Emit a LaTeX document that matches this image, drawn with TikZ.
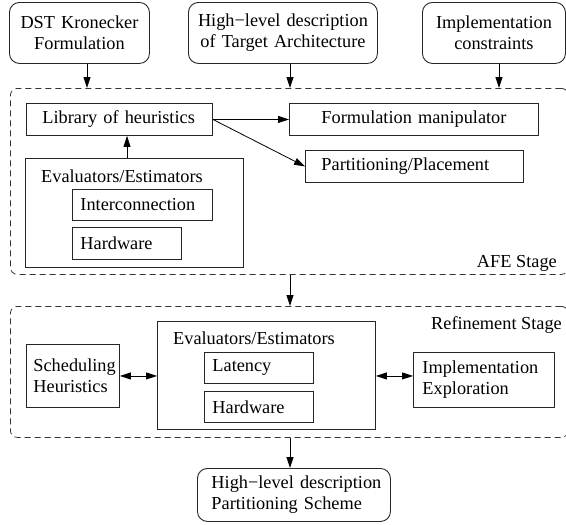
\documentclass[tikz,border=0pt]{standalone}
\usepackage{fontspec}
\setmainfont{Liberation Serif}
\usetikzlibrary{arrows.meta}
\begin{document}
\begin{tikzpicture}[x=1pt,y=-1pt,
  every node/.style={font=\fontsize{18.3}{21}\selectfont},
  box/.style={draw=black!85, line width=0.9pt, inner ysep=0pt, anchor=north west},
  rbox/.style={box, rounded corners=10pt},
  stagebox/.style={draw=black!80, line width=0.8pt, dash pattern=on 6pt off 4pt, rounded corners=7pt, inner sep=0pt, anchor=north west},
  arr/.style={line width=0.8pt, -{Triangle[length=11pt,width=7pt]}},
  darr/.style={line width=0.8pt, {Triangle[length=11pt,width=7pt]}-{Triangle[length=11pt,width=7pt]}},
  lbl/.style={inner sep=0pt, anchor=base west}
]
\useasboundingbox (0,0) rectangle (566,525);
\clip (0,0) rectangle (566,525);

% top inputs
\node[rbox, minimum height=61pt, inner xsep=8pt, text width=124pt, align=center] (dst) at (9,2) {DST Kronecker\\Formulation};
\node[rbox, minimum height=61pt, inner xsep=6pt, text width=177pt, align=center] (hl) at (188,2) {High−level description\\of Target Architecture};
\node[rbox, minimum height=61pt, inner xsep=8pt, text width=127pt, align=center] (ic) at (422,2) {Implementation\\constraints};

% AFE stage
\node[stagebox, minimum width=558pt, minimum height=186pt] (afe) at (10,88) {};
\node[box, minimum height=32pt, inner xsep=16pt, text width=154pt, align=left] (lib) at (26,103) {Library of heuristics};
\node[box, minimum height=32pt, inner xsep=8pt, text width=233pt, align=center] (form) at (289,103) {Formulation manipulator};
\node[box, minimum height=32pt, inner xsep=16pt, text width=186pt, align=left] (part) at (305,150) {Partitioning/Placement};
\node[box, minimum width=218pt, minimum height=109pt, inner sep=0pt] (eval1) at (25,158) {};
\node[lbl] (ev1t) at (41,182) {Evaluators/Estimators};
\node[box, minimum height=31pt, inner xsep=8pt, text width=124pt, align=left] (inter) at (72,189) {Interconnection};
\node[box, minimum height=32pt, inner xsep=8pt, text width=93pt, align=left] (hw1) at (72,227) {Hardware};
\node[lbl, anchor=base east] (afel) at (557,267) {AFE Stage};

% Refinement stage
\node[stagebox, minimum width=558pt, minimum height=131pt] (ref) at (10,306) {};
\node[lbl, anchor=base east] (refl) at (562,329) {Refinement Stage};
\node[box, minimum height=63pt, inner xsep=7pt, text width=79pt, align=left] (sched) at (26,344) {\mbox{Scheduling}\\Heuristics};
\node[box, minimum width=218pt, minimum height=108pt, inner sep=0pt] (eval2) at (157,321) {};
\node[lbl] (ev2t) at (173,344) {Evaluators/Estimators};
\node[box, minimum height=31pt, inner xsep=8pt, text width=93pt, align=left] (lat) at (204,352) {Latency};
\node[box, minimum height=31pt, inner xsep=8pt, text width=93pt, align=left] (hw2) at (204,391) {Hardware};
\node[box, minimum height=55pt, inner xsep=9pt, text width=123pt, align=left] (impl) at (413,352) {Implementation\\Exploration};

% output
\node[rbox, minimum height=53pt, inner xsep=14pt, text width=165pt, align=left] (bot) at (197,468) {\mbox{High−level description}\\\mbox{Partitioning Scheme}};

% connectors
\coordinate (a1) at (87,88);
\coordinate (a2) at (290,88);
\coordinate (a3) at (499,88);
\coordinate (a4) at (127,0);
\coordinate (a5) at (290,0);
\draw[arr] (dst.south -| a1) -- (a1);
\draw[arr] (hl.south -| a2) -- (a2);
\draw[arr] (ic.south -| a3) -- (a3);
\draw[arr] (lib.east) -- (form.west);
\draw[arr] (lib.east) -- (part.west);
\draw[arr] (eval1.north -| a4) -- (lib.south -| a4);
\draw[arr] (afe.south -| a5) -- (ref.north -| a5);
\draw[arr] (ref.south -| a5) -- (bot.north -| a5);
\draw[darr] (sched.east) -- (eval2.west |- sched.east);
\draw[darr] (eval2.east |- sched.east) -- (impl.west |- sched.east);
\end{tikzpicture}
\end{document}
